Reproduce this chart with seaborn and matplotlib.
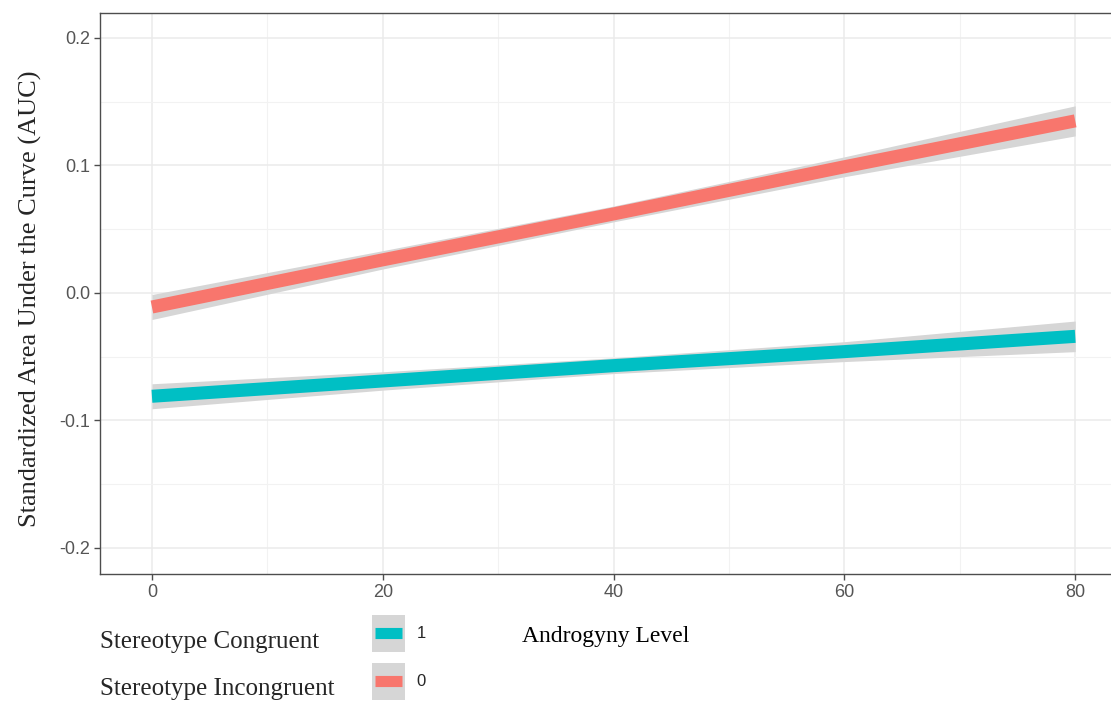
"""Androgyny level vs standardized AUC, two stereotype conditions with CI bands."""

import numpy as np
import pandas as pd
import matplotlib
import matplotlib.pyplot as plt
from matplotlib.lines import Line2D
from matplotlib.patches import Rectangle
from matplotlib.ticker import MultipleLocator
import seaborn as sns

matplotlib.use("Agg")

# values
ANDROGYNY = [0, 20, 40, 60, 80]
GROUPS = ["1", "0"]
GROUP_TEXT = ["Stereotype Congruent", "Stereotype Incongruent"]
FIT_CONGRUENT = [-0.081, -0.069, -0.057, -0.046, -0.034]
FIT_INCONGRUENT = [-0.011, 0.026, 0.062, 0.099, 0.135]
CI_HALF_CONGRUENT = [0.0098, 0.0072, 0.0062, 0.0078, 0.0120]
CI_HALF_INCONGRUENT = [0.0098, 0.0072, 0.0062, 0.0078, 0.0118]

X_TICKS = [0, 20, 40, 60, 80]
Y_TICKS = [-0.2, -0.1, 0.0, 0.1, 0.2]
Y_TICK_LABELS = ["-0.2", "-0.1", "0.0", "0.1", "0.2"]

PALETTE = {"1": "#00BFC4", "0": "#F8766D"}
BAND = "#D6D6D6"
SERIF = ["Liberation Serif", "DejaVu Serif"]
SANS = ["Liberation Sans", "DejaVu Sans"]
DPI = 100


class KeyHandler:
    """ggplot-like legend key: grey square with a coloured bar across it."""

    def legend_artist(self, legend, orig_handle, fontsize, handlebox):
        x0, y0 = -handlebox.xdescent, -handlebox.ydescent
        w, h = handlebox.width, handlebox.height
        tr = handlebox.get_transform()
        rect = Rectangle((x0, y0), w, h, facecolor=BAND, edgecolor="none", transform=tr)
        pad = 0.09 * w
        bar = Line2D([x0 + pad, x0 + w - pad], [y0 + h / 2] * 2,
                     color=orig_handle.get_color(), lw=8, solid_capstyle="butt",
                     transform=tr)
        handlebox.add_artist(rect)
        handlebox.add_artist(bar)
        return rect


def build_frame() -> pd.DataFrame:
    rows = []
    for grp, fit, half in zip(GROUPS, [FIT_CONGRUENT, FIT_INCONGRUENT],
                              [CI_HALF_CONGRUENT, CI_HALF_INCONGRUENT]):
        for x, y, h in zip(ANDROGYNY, fit, half):
            rows.append({"Androgyny": x, "AUC": y, "lo": y - h, "hi": y + h, "group": grp})
    return pd.DataFrame(rows)


def main() -> None:
    sns.set_style("white")
    plt.rcParams["font.family"] = SANS

    df = build_frame()
    fig = plt.figure(figsize=(11.11, 7.02), dpi=DPI)
    ax = fig.add_axes([100 / 1111, 1 - 574 / 702, 1 - 100 / 1111, (574 - 13) / 702])

    for grp in GROUPS:
        sub = df[df["group"] == grp]
        ax.fill_between(sub["Androgyny"], sub["lo"], sub["hi"], color=BAND, lw=0, zorder=2)
    sns.lineplot(data=df, x="Androgyny", y="AUC", hue="group", hue_order=GROUPS,
                 palette=PALETTE, lw=9.4, legend=False, ax=ax, zorder=3,
                 solid_capstyle="butt")

    ax.set_xlim(-4.5, 83.1)
    ax.set_ylim(-0.2204, 0.2196)
    ax.set_xticks(X_TICKS)
    ax.set_yticks(Y_TICKS)
    ax.set_yticklabels(Y_TICK_LABELS)
    ax.xaxis.set_minor_locator(MultipleLocator(10))
    ax.yaxis.set_minor_locator(MultipleLocator(0.05))
    ax.grid(which="major", color="#EBEBEB", lw=1.1, zorder=0)
    ax.grid(which="minor", color="#F2F2F2", lw=0.8, zorder=0)
    ax.set_axisbelow(True)
    for sp in ax.spines.values():
        sp.set_color("#4D4D4D")
        sp.set_linewidth(1.0)
    ax.spines["right"].set_visible(False)
    ax.tick_params(which="major", length=4, width=1.0, color="#4D4D4D",
                   labelcolor="#555555", labelsize=13, pad=3,
                   bottom=True, left=True)
    ax.tick_params(which="minor", length=0)

    ax.set_ylabel("")
    ax.set_xlabel("Androgyny Level", family=SERIF, fontsize=17, color="black", labelpad=18)
    fig.text(30 / 1111, 1 - 299 / 702, "Standardized Area Under the Curve (AUC)",
             family=SERIF, fontsize=19, rotation=90, ha="center", va="center")

    # group names to the left of the key
    for txt, ypix in zip(GROUP_TEXT, [648, 695]):
        fig.text(100 / 1111, 1 - ypix / 702, txt, family=SERIF, fontsize=18,
                 ha="left", va="baseline")

    handles = [ax.lines[i] for i in range(len(GROUPS))]
    fig.legend(handles, GROUPS, handler_map={Line2D: KeyHandler()},
               loc="upper left", bbox_to_anchor=(372 / 1111, 1 - 615 / 702),
               frameon=False, fontsize=12, handlelength=1.98, handleheight=3.03,
               labelspacing=0.66, handletextpad=0.7, borderpad=0, borderaxespad=0)

    fig.savefig("out.png", dpi=DPI)
    plt.close(fig)


if __name__ == "__main__":
    main()
